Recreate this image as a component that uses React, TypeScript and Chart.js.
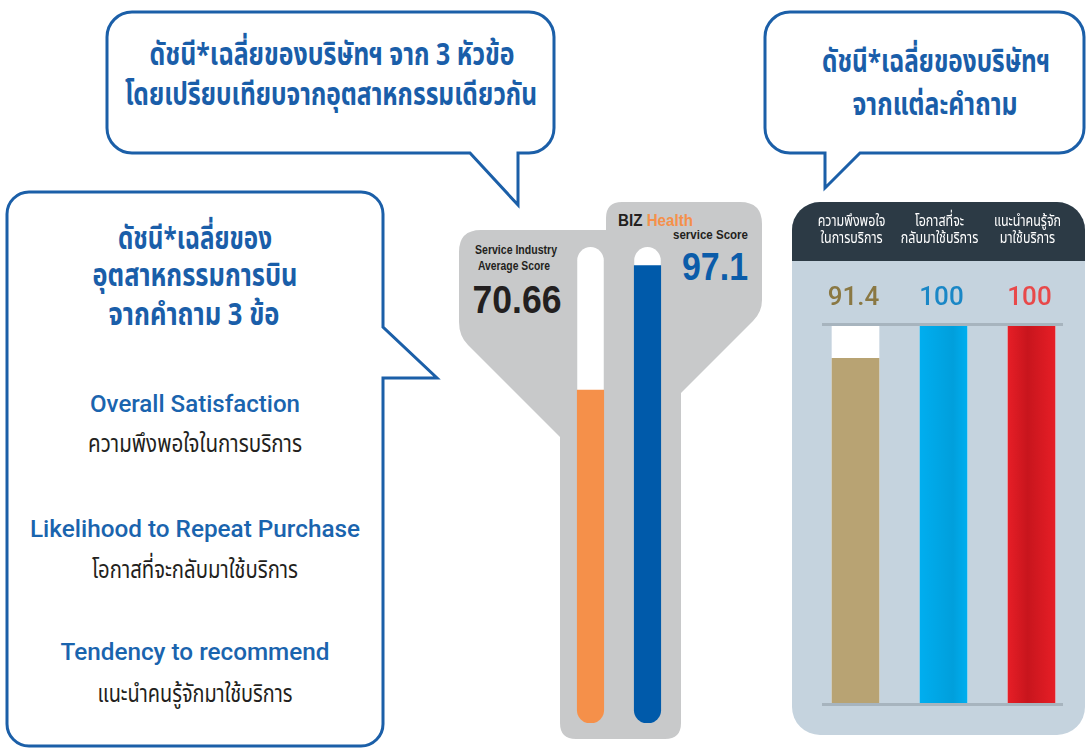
import React, { useEffect, useRef } from "react";
import { Chart, registerables } from "chart.js";

Chart.register(...registerables);

// ---------------- data ----------------
const thermoCategories = ["Service Industry Average Score", "BIZ Health service Score"];
const thermoValues = [70.66, 97.1];
const thermoColors = ["#f5904a", "#005aaa"];
const thermoMax = 100;

const questionCategories = [
  ["ความพึงพอใจ", "ในการบริการ"],
  ["โอกาสที่จะ", "กลับมาใช้บริการ"],
  ["แนะนำคนรู้จัก", "มาใช้บริการ"],
];
const questionValues = [91.4, 100, 100];
const questionMax = [100, 100, 100];
const questionBarShades = [
  ["#b8a373", "#b8a373", "#b8a373"],
  ["#00aeef", "#009fdc", "#00aeef"],
  ["#e61e26", "#c8151d", "#e61e26"],
];
const questionTextColors = ["#8a7843", "#1a87c6", "#e8494a"];

const companyTitle = ["ดัชนี*เฉลี่ยของบริษัทฯ จาก 3 หัวข้อ", "โดยเปรียบเทียบจากอุตสาหกรรมเดียวกัน"];
const perQuestionTitle = ["ดัชนี*เฉลี่ยของบริษัทฯ", "จากแต่ละคำถาม"];
const industryTitle = ["ดัชนี*เฉลี่ยของ", "อุตสาหกรรมการบิน", "จากคำถาม 3 ข้อ"];
const questionsEn = ["Overall Satisfaction", "Likelihood to Repeat Purchase", "Tendency to recommend"];
const questionsTh = ["ความพึงพอใจในการบริการ", "โอกาสที่จะกลับมาใช้บริการ", "แนะนำคนรู้จักมาใช้บริการ"];

// ---------------- styles ----------------
const TH = '"Noto Sans Thai", "Noto Sans Thai UI", Loma, Garuda, "Noto Sans", sans-serif';
const EN = '"Liberation Sans", Arial, Helvetica, sans-serif';
const ENM = 'Roboto, "Liberation Sans", Arial, sans-serif';
const BLUE_LINE = "#1b5fa8";
const BLUE_TEXT = "#1a5ea9";
const DARK = "#231f20";

const thermoTrackPlugin = {
  id: "thermoTrack",
  beforeDatasetsDraw(chart: any) {
    const { ctx } = chart;
    const y = chart.scales.y;
    const meta = chart.getDatasetMeta(0);
    ctx.save();
    ctx.fillStyle = "#ffffff";
    meta.data.forEach((bar: any) => {
      const { x, width } = bar.getProps(["x", "width"], true);
      const r = width / 2;
      const top = y.getPixelForValue(thermoMax) - 5;
      const bottom = y.getPixelForValue(0);
      ctx.beginPath();
      ctx.roundRect(x - r, top, width, bottom - top, r);
      ctx.fill();
    });
    ctx.restore();
  },
};

const panelPlugin = {
  id: "panelText",
  afterDatasetsDraw(chart: any) {
    const { ctx, chartArea } = chart;
    const x = chart.scales.x;
    const y = chart.scales.y;
    ctx.save();
    ctx.strokeStyle = "#a7b4be";
    ctx.lineWidth = 3;
    [y.getPixelForValue(100) - 1.5, y.getPixelForValue(0) + 1.5].forEach((py: number) => {
      ctx.beginPath();
      ctx.moveTo(chartArea.left + 10.5, py);
      ctx.lineTo(chartArea.right - 12.5, py);
      ctx.stroke();
    });
    ctx.textAlign = "center";
    ctx.textBaseline = "alphabetic";
    ctx.font = `500 26px ${ENM}`;
    questionValues.forEach((v, i) => {
      ctx.fillStyle = questionTextColors[i];
      ctx.fillText(String(v), x.getPixelForValue(i) - 2, chartArea.top - 21);
    });
    ctx.fillStyle = "#ffffff";
    ctx.font = `16px ${TH}`;
    questionCategories.forEach((lines, i) => {
      lines.forEach((line, j) => {
        ctx.save();
        ctx.translate(x.getPixelForValue(i) - 4, 26 + j * 17);
        ctx.scale(0.78, 1);
        ctx.fillText(line, 0, 0);
        ctx.restore();
      });
    });
    ctx.restore();
  },
};

function ThermoChart() {
  const ref = useRef<HTMLCanvasElement>(null);
  useEffect(() => {
    const chart = new Chart(ref.current!, {
      type: "bar",
      data: {
        labels: thermoCategories,
        datasets: [
          {
            label: "score",
            data: thermoValues,
            backgroundColor: thermoColors,
            borderRadius: { topLeft: 0, topRight: 0, bottomLeft: 13, bottomRight: 13 },
            borderSkipped: false,
            barThickness: 26.5,
          } as any,
        ],
      },
      options: {
        animation: false,
        responsive: false,
        events: [],
        layout: { padding: { top: 5, left: 0, right: 0, bottom: 0 } },
        plugins: { legend: { display: false }, tooltip: { enabled: false } },
        scales: {
          x: { display: false },
          y: { display: false, min: 0, max: thermoMax },
        },
      },
      plugins: [thermoTrackPlugin],
    });
    return () => chart.destroy();
  }, []);
  return (
    <canvas
      ref={ref}
      width={114}
      height={476}
      style={{ position: "absolute", left: 562, top: 247, width: 114, height: 476 }}
    />
  );
}

function PanelChart() {
  const ref = useRef<HTMLCanvasElement>(null);
  useEffect(() => {
    const chart = new Chart(ref.current!, {
      type: "bar",
      data: {
        labels: questionCategories.map((l) => l.join(" ")),
        datasets: [
          {
            label: "score",
            data: questionValues,
            backgroundColor: (c: any) => {
              const i = c.dataIndex ?? 0;
              const shades = questionBarShades[i] || questionBarShades[0];
              const ch = c.chart;
              if (c.type !== "data" || !ch.chartArea || !ch.scales.x) return shades[0];
              const px = ch.scales.x.getPixelForValue(i);
              const g = ch.ctx.createLinearGradient(px - 23.5, 0, px + 23.5, 0);
              g.addColorStop(0, shades[0]);
              g.addColorStop(i === 1 ? 0.7 : 0.42, shades[1]);
              g.addColorStop(1, shades[2]);
              return g;
            },
            barThickness: 47,
            grouped: false,
            order: 1,
          } as any,
          {
            label: "max",
            data: questionMax,
            backgroundColor: "#ffffff",
            barThickness: 47,
            grouped: false,
            order: 2,
          } as any,
        ],
      },
      options: {
        animation: false,
        responsive: false,
        events: [],
        layout: { padding: { top: 126, left: 18.5, right: 9.5, bottom: 32 } },
        plugins: { legend: { display: false }, tooltip: { enabled: false } },
        scales: {
          x: { display: false },
          y: { display: false, min: 0, max: 100 },
        },
      },
      plugins: [panelPlugin],
    });
    return () => chart.destroy();
  }, []);
  return (
    <canvas
      ref={ref}
      width={292}
      height={535}
      style={{ position: "absolute", left: 793, top: 200, width: 292, height: 535 }}
    />
  );
}

type T = { x: number; y: number; w?: number; size: number; weight?: number; color: string; font: string; anchor?: string; children: any };
function Txt({ x, y, w, size, weight = 400, color, font, anchor = "middle", children }: T) {
  const extra: any = w ? { textLength: w, lengthAdjust: "spacingAndGlyphs" } : {};
  return (
    <text x={x} y={y} fontSize={size} fontWeight={weight} fill={color} fontFamily={font} textAnchor={anchor} {...extra}>
      {children}
    </text>
  );
}

export default function App() {
  return (
    <div
      style={{
        position: "absolute",
        left: 0,
        top: 0,
        width: 1086,
        height: 748,
        overflow: "hidden",
        background: "#ffffff",
      }}
    >
      <svg width={1086} height={748} style={{ position: "absolute", left: 0, top: 0 }}>
        <defs>
          <clipPath id="panelClip">
            <rect x={792} y={202} width={293} height={533} rx={28} ry={28} />
          </clipPath>
        </defs>
        {/* speech bubbles */}
        <path
          d="M 132 12 H 529 A 25 25 0 0 1 554 37 V 128 A 25 25 0 0 1 529 153 H 518 V 205 L 470 153 H 132 A 25 25 0 0 1 107 128 V 37 A 25 25 0 0 1 132 12 Z"
          fill="#ffffff"
          stroke={BLUE_LINE}
          strokeWidth={3}
        />
        <path
          d="M 790 12 H 1059 A 25 25 0 0 1 1084 37 V 128 A 25 25 0 0 1 1059 153 H 860 L 825 188 V 153 H 790 A 25 25 0 0 1 765 128 V 37 A 25 25 0 0 1 790 12 Z"
          fill="#ffffff"
          stroke={BLUE_LINE}
          strokeWidth={3}
        />
        <path
          d="M 29 192 H 361 A 22 22 0 0 1 383 214 V 327 L 437 378 H 383 V 724 A 22 22 0 0 1 361 746 H 29 A 22 22 0 0 1 7 724 V 214 A 22 22 0 0 1 29 192 Z"
          fill="#ffffff"
          stroke={BLUE_LINE}
          strokeWidth={3}
        />

        {/* thermometer shape */}
        <path
          d="M 481 230 L 606 230 L 606 218 Q 606 202 622 202 L 740 202 Q 762 202 762 224 L 762 300 Q 762 312 753 321 L 681 393 L 681 723 Q 681 739 665 739 L 576 739 Q 560 739 560 723 L 560 437 L 468 345 Q 459 336 459 322 L 459 252 Q 459 230 481 230 Z"
          fill="#c8c9ca"
        />

        {/* right panel */}
        <rect x={792} y={202} width={293} height={533} rx={28} ry={28} fill="#c5d3de" />
        <rect x={792} y={202} width={293} height={59} fill="#2c3a45" clipPath="url(#panelClip)" />

        {/* bubble texts */}
        <Txt x={332} y={65} w={365} size={31} weight={700} color={BLUE_TEXT} font={TH}>{companyTitle[0]}</Txt>
        <Txt x={331} y={105} w={412} size={31} weight={700} color={BLUE_TEXT} font={TH}>{companyTitle[1]}</Txt>

        <Txt x={936} y={72} w={228} size={31} weight={700} color={BLUE_TEXT} font={TH}>{perQuestionTitle[0]}</Txt>
        <Txt x={935} y={115} w={165} size={31} weight={700} color={BLUE_TEXT} font={TH}>{perQuestionTitle[1]}</Txt>

        <Txt x={195} y={249} w={154} size={31} weight={700} color={BLUE_TEXT} font={TH}>{industryTitle[0]}</Txt>
        <Txt x={195} y={286} w={205} size={31} weight={700} color={BLUE_TEXT} font={TH}>{industryTitle[1]}</Txt>
        <Txt x={194} y={325} w={171} size={31} weight={700} color={BLUE_TEXT} font={TH}>{industryTitle[2]}</Txt>

        <Txt x={195} y={412} w={210} size={24} weight={500} color="#1a64ae" font={ENM}>{questionsEn[0]}</Txt>
        <Txt x={195} y={452} w={214} size={25} color={DARK} font={TH}>{questionsTh[0]}</Txt>
        <Txt x={195} y={537} w={330} size={24} weight={500} color="#1a64ae" font={ENM}>{questionsEn[1]}</Txt>
        <Txt x={195} y={578} w={206} size={25} color={DARK} font={TH}>{questionsTh[1]}</Txt>
        <Txt x={195} y={660} w={269} size={24} weight={500} color="#1a64ae" font={ENM}>{questionsEn[2]}</Txt>
        <Txt x={195} y={702} w={195} size={25} color={DARK} font={TH}>{questionsTh[2]}</Txt>

        {/* thermometer texts */}
        <Txt x={516} y={254} w={82} size={13.5} weight={700} color={DARK} font={EN}>Service Industry</Txt>
        <Txt x={514} y={270} w={72} size={13.5} weight={700} color={DARK} font={EN}>Average Score</Txt>
        <Txt x={517} y={313} w={89} size={38} weight={700} color={DARK} font={EN}>{thermoValues[0].toFixed(2)}</Txt>
        <text x={618} y={226} fontSize={16.5} fontWeight={700} fontFamily={EN} textLength={75} lengthAdjust="spacingAndGlyphs">
          <tspan fill={DARK}>BIZ </tspan>
          <tspan fill="#f5904a">Health</tspan>
        </text>
        <Txt x={748} y={239} w={75} size={13} weight={700} color={DARK} font={EN} anchor="end">service Score</Txt>
        <Txt x={748} y={280} w={66} size={39} weight={700} color="#0b5ca9" font={EN} anchor="end">{String(thermoValues[1])}</Txt>
      </svg>
      <ThermoChart />
      <PanelChart />
    </div>
  );
}
